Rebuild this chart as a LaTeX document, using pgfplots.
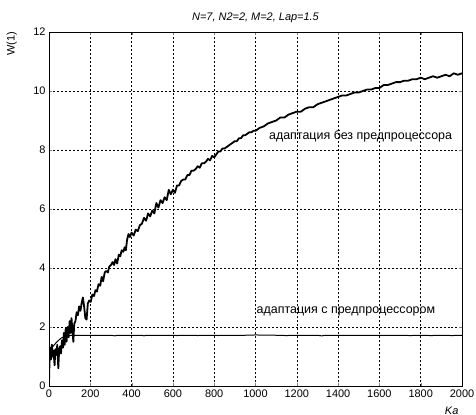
\documentclass[border=0pt]{standalone}
\usepackage{fontspec}
\setmainfont{Liberation Sans}
\usepackage{pgfplots}
\pgfplotsset{compat=1.18}
\begin{document}
\begin{tikzpicture}
\useasboundingbox (-49bp,-29bp) rectangle (427bp,386bp);
\begin{axis}[
  scale only axis,
  width=413bp, height=354bp,
  at={(0,0)}, anchor=south west,
  xmin=0, xmax=2000, ymin=0, ymax=12,
  xtick={0,200,...,2000}, ytick={0,2,...,12},
  /pgf/number format/assume math mode=true,
  /pgf/number format/1000 sep={},
  tick label style={font=\fontsize{11}{13}\selectfont},
  tick align=inside, major tick length=3bp,
  axis line style={line width=0.8pt},
  grid=major,
  major grid style={black, line width=0.5pt, dash pattern=on 2pt off 2pt},
  title={\textit{N=7, N2=2, M=2, Lap=1.5}},
  title style={font=\fontsize{11}{13}\selectfont, at={(rel axis cs:0.5,1)}, anchor=base, yshift=6bp},
  ylabel={W(1)},
  ylabel style={font=\fontsize{11}{13}\selectfont, at={(rel axis cs:-0.09,1.011)}, anchor=east},
  xlabel={\textit{Ka}},
  xlabel style={font=\fontsize{11}{13}\selectfont, at={(rel axis cs:0.975,0)}, anchor=north, yshift=-17bp},
]
\addplot[black, line width=1.8pt, line join=round] coordinates {
(0,0.1)(3,1.0)(6,1.3)(10,0.9)(14,1.4)(18,1.0)(22,1.2)(27,0.7)(31,1.25)(36,1.05)
(40,1.4)(45,0.6)(49,1.2)(54,1.35)(58,1.1)(63,1.55)(68,1.3)(72,1.8)(76,1.4)(81,1.95)
(85,1.5)(90,2.0)(95,1.65)(100,2.2)(104,1.8)(109,2.3)(113,1.9)(118,1.5)(122,2.1)(128,2.2)
(134,2.5)(140,2.4)(146,2.7)(152,2.55)(158,2.8)(164,3.0)(170,2.7)(176,2.3)(182,2.25)(188,2.8)
(195,2.9)(202,2.85)(210,3.1)(218,3.05)(225,3.25)(232,3.2)(240,3.45)(248,3.4)(255,3.7)(262,3.55)
(270,3.85)(277,3.9)(285,3.85)(292,4.05)(300,4.1)(308,4.2)(315,4.1)(322,4.3)(330,4.15)(338,4.45)
(345,4.4)(352,4.6)(360,4.55)(366,4.7)(372,4.6)(378,4.95)(385,5.15)(392,5.05)(400,5.2)(410,5.1)
(420,5.3)(430,5.25)(440,5.45)(450,5.5)(460,5.7)(470,5.6)(480,5.85)(490,5.75)
(500,5.95)(510,5.85)(520,6.2)(530,6.05)(540,6.3)(550,6.2)(560,6.4)(570,6.3)(580,6.65)(590,6.5)
(600,6.65)(610,6.55)(620,6.8)(630,6.8)(640,6.95)(650,7.0)(660,7.0)(670,7.15)(680,7.15)(690,7.3)
(700,7.3)(710,7.35)(720,7.45)(730,7.4)(740,7.55)(750,7.55)(760,7.6)(770,7.7)(780,7.65)(790,7.8)
(800,7.75)(810,7.85)(820,7.95)(830,7.95)(840,8.05)(850,8.05)(860,8.1)(870,8.15)(880,8.2)(890,8.25)
(900,8.3)(910,8.3)(920,8.4)(930,8.4)(940,8.5)(950,8.5)(960,8.55)(970,8.6)(980,8.6)(990,8.65)
(1000,8.65)(1020,8.75)(1040,8.8)(1060,8.9)(1080,8.95)(1100,9.0)(1120,9.1)(1140,9.1)(1160,9.2)(1180,9.25)
(1200,9.3)(1220,9.3)(1240,9.4)(1260,9.45)(1280,9.45)(1300,9.55)(1320,9.6)(1340,9.65)(1360,9.7)(1380,9.75)
(1400,9.8)(1420,9.85)(1440,9.85)(1460,9.9)(1480,9.95)(1500,9.95)(1520,10.0)(1540,10.05)(1560,10.05)(1580,10.1)
(1600,10.1)(1620,10.2)(1640,10.2)(1660,10.25)(1680,10.3)(1700,10.3)(1720,10.35)(1740,10.35)(1760,10.4)(1780,10.4)
(1800,10.45)(1820,10.4)(1840,10.45)(1860,10.5)(1880,10.45)(1900,10.5)(1920,10.55)(1940,10.5)(1960,10.6)(1980,10.55)
(2000,10.6)
};
\addplot[black, line width=1.0pt] coordinates {
(0,0.1)(3,1.0)(8,1.2)(20,1.35)(35,1.47)(50,1.57)(60,1.63)(80,1.68)(100,1.71)(120,1.72)
(200,1.72)(300,1.72)(320,1.70)(330,1.72)(450,1.72)(460,1.70)
(470,1.72)(600,1.72)(620,1.71)(640,1.72)(700,1.72)(720,1.71)(740,1.72)(800,1.72)(820,1.71)(830,1.72)
(950,1.72)(1000,1.73)(1100,1.72)(1150,1.71)(1200,1.72)(1300,1.72)(1320,1.70)(1340,1.72)(1500,1.72)(1700,1.72)
(1750,1.71)(1800,1.72)(1850,1.71)(1900,1.72)(1950,1.71)(2000,1.72)
};
\node[anchor=west, inner sep=0pt, font=\fontsize{12.5}{14}\selectfont] at (axis cs:1065,8.47) {адаптация без предпроцессора};
\node[anchor=west, inner sep=0pt, font=\fontsize{12.5}{14}\selectfont] at (axis cs:1005,2.52) {адаптация с предпроцессором};
\end{axis}
\end{tikzpicture}
\end{document}
